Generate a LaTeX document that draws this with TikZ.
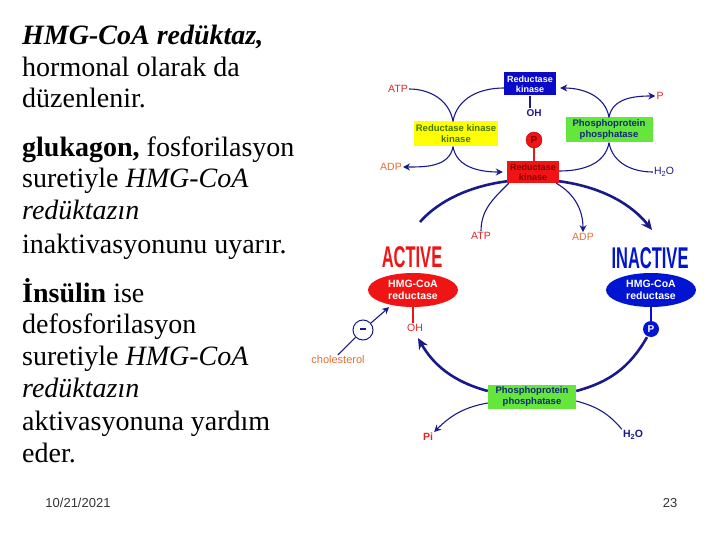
\documentclass[tikz,border=0pt]{standalone}
\usepackage{fontspec}
\setmainfont{Liberation Serif}
\newfontfamily\diagfont{Liberation Sans}
\usetikzlibrary{arrows.meta}
\usetikzlibrary{backgrounds}
\usetikzlibrary{shapes.geometric}
\usetikzlibrary{positioning}

\definecolor{navy}{RGB}{25,25,140}
\definecolor{lblred}{RGB}{220,40,40}
\definecolor{lblorange}{RGB}{230,110,50}
\definecolor{boxblue}{RGB}{10,10,200}
\definecolor{ellblue}{RGB}{0,20,210}
\definecolor{ellred}{RGB}{240,20,20}
\definecolor{boxyellow}{RGB}{255,255,0}
\definecolor{olivetext}{RGB}{70,120,0}
\definecolor{boxgreen}{RGB}{100,230,60}
\definecolor{greentext}{RGB}{20,40,120}
\definecolor{darkred}{RGB}{130,0,0}

\tikzset{
  line/.style={draw=navy, line width=1.1pt},
  arr/.style={line, -{Stealth[length=7pt,width=7pt]}},
  bigline/.style={draw=navy, line width=2.6pt},
  bigarr/.style={bigline, -{Stealth[length=11pt,width=10pt]}},
  lbl/.style={font=\diagfont\fontsize{10.5}{11}\selectfont, inner sep=1pt},
  box/.style={rectangle, inner sep=1pt, align=center, font=\diagfont\bfseries\fontsize{9}{10}\selectfont},
  hmg/.style={ellipse, minimum width=90pt, minimum height=34pt, inner sep=0pt, align=center, text=white, font=\diagfont\bfseries\fontsize{10.5}{12}\selectfont},
  state/.style={inner sep=0pt, font=\diagfont\bfseries\fontsize{30}{30}\selectfont},
  txt/.style={anchor=base west, inner sep=0pt, font=\fontsize{28}{32}\selectfont},
  pcirc/.style={circle, minimum size=16pt, inner sep=0pt, font=\diagfont\bfseries\fontsize{10}{10}\selectfont},
}

\begin{document}
\begin{tikzpicture}[x=1pt, y=-1pt]
	\useasboundingbox (0,0) rectangle (720,540);

	% text on the left
	\node[txt] (l1) at (22,45) {\textbf{\textit{HMG-CoA redüktaz,}}};
	\node[txt] (l2) at (22,77) {hormonal olarak da};
	\node[txt] (l3) at (22,108) {düzenlenir.};
	\node[txt] (l4) at (22,157) {\textbf{glukagon,} fosforilasyon};
	\node[txt] (l5) at (22,188) {suretiyle \textit{HMG-CoA}};
	\node[txt] (l6) at (22,220) {\textit{redüktazın}};
	\node[txt] (l7) at (22,253) {inaktivasyonunu uyarır.};
	\node[txt] (l8) at (22,302) {\textbf{İnsülin} ise};
	\node[txt] (l9) at (22,333) {defosforilasyon};
	\node[txt] (l10) at (22,365) {suretiyle \textit{HMG-CoA}};
	\node[txt] (l11) at (22,397) {\textit{redüktazın}};
	\node[txt] (l12) at (22,430) {aktivasyonuna yardım};
	\node[txt] (l13) at (22,462) {eder.};

	% kinase cycle
	\node[box, fill=boxblue, text=white, minimum width=52pt, minimum height=23pt] (rk) at (530,84) {Reductase\\kinase};
	\node[lbl, text=navy, font=\diagfont\bfseries\fontsize{10}{10}\selectfont] (oh1) at (534,113) {OH};
	\node[lbl, text=lblred] (atp1) at (398,89) {ATP};
	\node[box, fill=boxyellow, text=olivetext, minimum width=84pt, minimum height=25pt, font=\diagfont\bfseries\fontsize{9.5}{11}\selectfont] (rkk) at (456,134) {Reductase kinase\\kinase};
	\node[lbl, text=lblorange] (adp1) at (391,167) {ADP};
	\node[box, fill=ellred, text=darkred, minimum width=52pt, minimum height=22pt] (rkp) at (533,172) {Reductase\\kinase};
	\node[pcirc, fill=ellred, draw=red!70!black, text=darkred] (p1) at (534,140) {P};
	\node[box, fill=boxgreen, text=greentext, minimum width=87pt, minimum height=25pt, font=\diagfont\bfseries\fontsize{9.5}{11}\selectfont] (ppp1) at (609,130) {Phosphoprotein\\phosphatase};
	\node[lbl, text=lblred] (p2) at (660,96) {P};
	\node[lbl, text=navy] (h2o1) at (664,172) {H\raisebox{-0.3ex}{\scalebox{0.7}{2}}O};
	\node[lbl, text=lblred] (atp2) at (481,236) {ATP};
	\node[lbl, text=lblorange] (adp2) at (583,237) {ADP};

	\draw[line] (rk.south) -- (rk.south |- oh1.north);
	\draw[draw=ellred, line width=1.1pt] (p1.south) -- (p1.south |- rkp.north);
	\draw[line] ([yshift=-4pt]rk.west) to[out=180,in=80] ([xshift=-3pt]rkk.north);
	\draw[line] (atp1.east) to[out=0,in=100] ([xshift=-3pt]rkk.north);
	\draw[arr] ([xshift=-3pt]rkk.south) to[out=-80,in=180] ([xshift=-4pt]rkp.west);
	\draw[arr] ([xshift=-3pt]rkk.south) to[out=-100,in=0] (adp1.east);
	\draw[line] ([yshift=1pt]rkp.east) to[out=0,in=-100] (ppp1.south);
	\draw[line] (h2o1.west) to[out=180,in=-80] (ppp1.south);
	\draw[arr] (ppp1.north) to[out=100,in=0] ([yshift=-4pt,xshift=4pt]rk.east);
	\draw[arr] (ppp1.north) to[out=80,in=180] (p2.west);
	\draw[line] (atp2.north) to[out=90,in=-135] ([xshift=2pt]rkp.south west);
	\draw[arr] ([xshift=-3pt]rkp.south east) to[out=-30,in=90] (adp2.north);

	% big arc behind the kinase box
	\coordinate (arcL) at (420,222);
	\coordinate (arcR) at (652,230);
	\begin{scope}[on background layer]
		\draw[bigarr] (arcL) .. controls (470,165) and (600,165) .. (arcR);
	\end{scope}

	% reductase states
	\node[state, text=ellred] (act) at (412,257) {\scalebox{0.55}[1]{ACTIVE}};
	\node[state, text=ellblue] (inact) at (650,258) {\scalebox{0.55}[1]{INACTIVE}};
	\node[hmg, fill=ellred] (hmga) at (413,290) {HMG-CoA\\reductase};
	\node[hmg, fill=ellblue] (hmgi) at (651,290) {HMG-CoA\\reductase};
	\node[lbl, text=lblred] (oh2) at (415,328) {OH};
	\node[pcirc, fill=ellblue, text=white] (pc) at (651,329) {P};
	\node[circle, draw=navy, line width=1pt, minimum size=20pt, inner sep=0pt, text=navy] (minus) at (363,330) {\rule[0.5ex]{6pt}{1.6pt}};
	\node[lbl, text=lblorange, font=\diagfont\fontsize{11}{11}\selectfont] (chol) at (338,360) {cholesterol};
	\node[box, fill=boxgreen, text=greentext, minimum width=88pt, minimum height=24pt, font=\diagfont\bfseries\fontsize{9.5}{11}\selectfont] (ppp2) at (532,397) {Phosphoprotein\\phosphatase};
	\node[lbl, text=lblred, font=\diagfont\bfseries\fontsize{10.5}{11}\selectfont] (pi) at (428,437) {Pi};
	\node[lbl, text=navy, font=\diagfont\bfseries\fontsize{10.5}{11}\selectfont] (h2o2) at (633,435) {H\raisebox{-0.3ex}{\scalebox{0.7}{2}}O};

	\draw[draw=ellred, line width=1.1pt] (hmga.south) -- (hmga.south |- oh2.north);
	\draw[draw=ellblue, line width=1.1pt] (hmgi.south) -- (pc.north);
	\draw[line] (chol.north) -- (minus);
	\draw[arr, shorten >=3pt] (minus) -- (hmga.215);
	\draw[bigline] ([xshift=-4pt]pc.south) to[out=-120,in=15] ([yshift=6pt]ppp2.east);
	\draw[bigarr, shorten >=6pt] ([yshift=6pt]ppp2.west) to[out=165,in=-60] (oh2.south);
	\draw[arr] ([yshift=-6pt]ppp2.west) to[out=190,in=45] (pi.north east);
	\draw[line] (h2o2.north west) to[out=130,in=-15] ([yshift=-4pt]ppp2.east);

	% footer
	\node[inner sep=0pt, text=black!80, font=\diagfont\fontsize{13}{13}\selectfont] (date) at (78,503) {10/21/2021};
	\node[inner sep=0pt, text=black!80, font=\diagfont\fontsize{13}{13}\selectfont] (page) at (670,503) {23};
\end{tikzpicture}
\end{document}
